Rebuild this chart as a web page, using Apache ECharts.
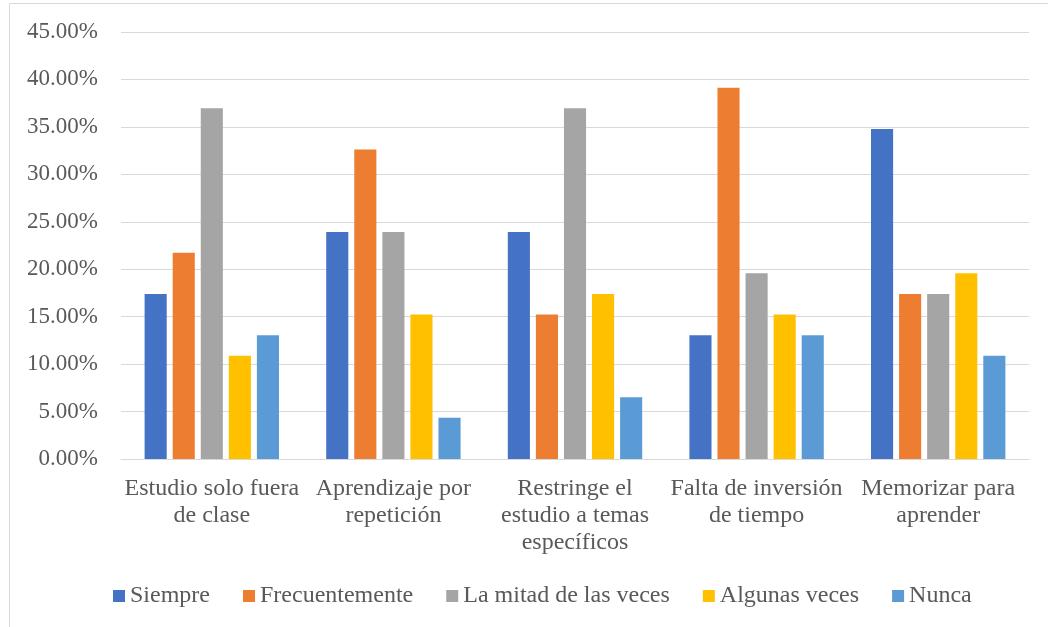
<!DOCTYPE html>
<html>
<head>
<meta charset="utf-8">
<script src="https://cdn.jsdelivr.net/npm/echarts@6/dist/echarts.min.js"></script>
<style>
  html, body { margin: 0; padding: 0; background: #fff; }
  #chart { width: 1048px; height: 627px; }
</style>
</head>
<body>
<div id="chart"></div>
<script>
const categories = [
  'Estudio solo fuera\nde clase',
  'Aprendizaje por\nrepetición',
  'Restringe el\nestudio a temas\nespecíficos',
  'Falta de inversión\nde tiempo',
  'Memorizar para\naprender'
]
const seriesNames = ['Siempre', 'Frecuentemente', 'La mitad de las veces', 'Algunas veces', 'Nunca']
const siempre = [17.39, 23.91, 23.91, 13.04, 34.78]
const frecuentemente = [21.74, 32.61, 15.22, 39.13, 17.39]
const mitad = [36.96, 23.91, 36.96, 19.57, 17.39]
const algunas = [10.87, 15.22, 17.39, 15.22, 19.57]
const nunca = [13.04, 4.35, 6.52, 13.04, 10.87]
const colors = ['#4472C4', '#ED7D31', '#A5A5A5', '#FFC000', '#5B9BD5']

const values = [siempre, frecuentemente, mitad, algunas, nunca]
const font = '"Liberation Serif", "Times New Roman", serif'

const chart = echarts.init(document.getElementById('chart'))
chart.setOption({
  animation: false,
  color: colors,
  textStyle: { fontFamily: font },
  graphic: [
    {
      type: 'rect',
      shape: { x: 9.5, y: 3.5, width: 1100, height: 700 },
      style: { fill: 'none', stroke: '#d9d9d9', lineWidth: 1 },
      silent: true,
    },
  ],
  grid: { left: 121, right: 19, top: 32, bottom: 168 },
  legend: {
    data: seriesNames,
    top: 579,
    left: 108,
    itemWidth: 12,
    itemHeight: 12,
    itemGap: 33,
    icon: 'rect',
    textStyle: { fontFamily: font, fontSize: 24, color: '#595959' },
  },
  xAxis: {
    type: 'category',
    data: categories,
    axisLine: { lineStyle: { color: '#d9d9d9', width: 1 } },
    axisTick: { show: false },
    axisLabel: {
      fontFamily: font,
      fontSize: 24,
      color: '#595959',
      lineHeight: 27,
      margin: 16,
      interval: 0,
      verticalAlign: 'top',
    },
  },
  yAxis: {
    type: 'value',
    min: 0,
    max: 45,
    interval: 5,
    axisLine: { show: false },
    axisTick: { show: false },
    splitLine: { lineStyle: { color: '#d9d9d9', width: 1 } },
    axisLabel: {
      fontFamily: font,
      fontSize: 23,
      color: '#595959',
      margin: 23,
      formatter: (v) => v.toFixed(2) + '%',
    },
  },
  series: seriesNames.map((name, i) => ({
    name,
    type: 'bar',
    data: values[i],
    barGap: '27%',
    barCategoryGap: '26%',
  })),
})
</script>
</body>
</html>
